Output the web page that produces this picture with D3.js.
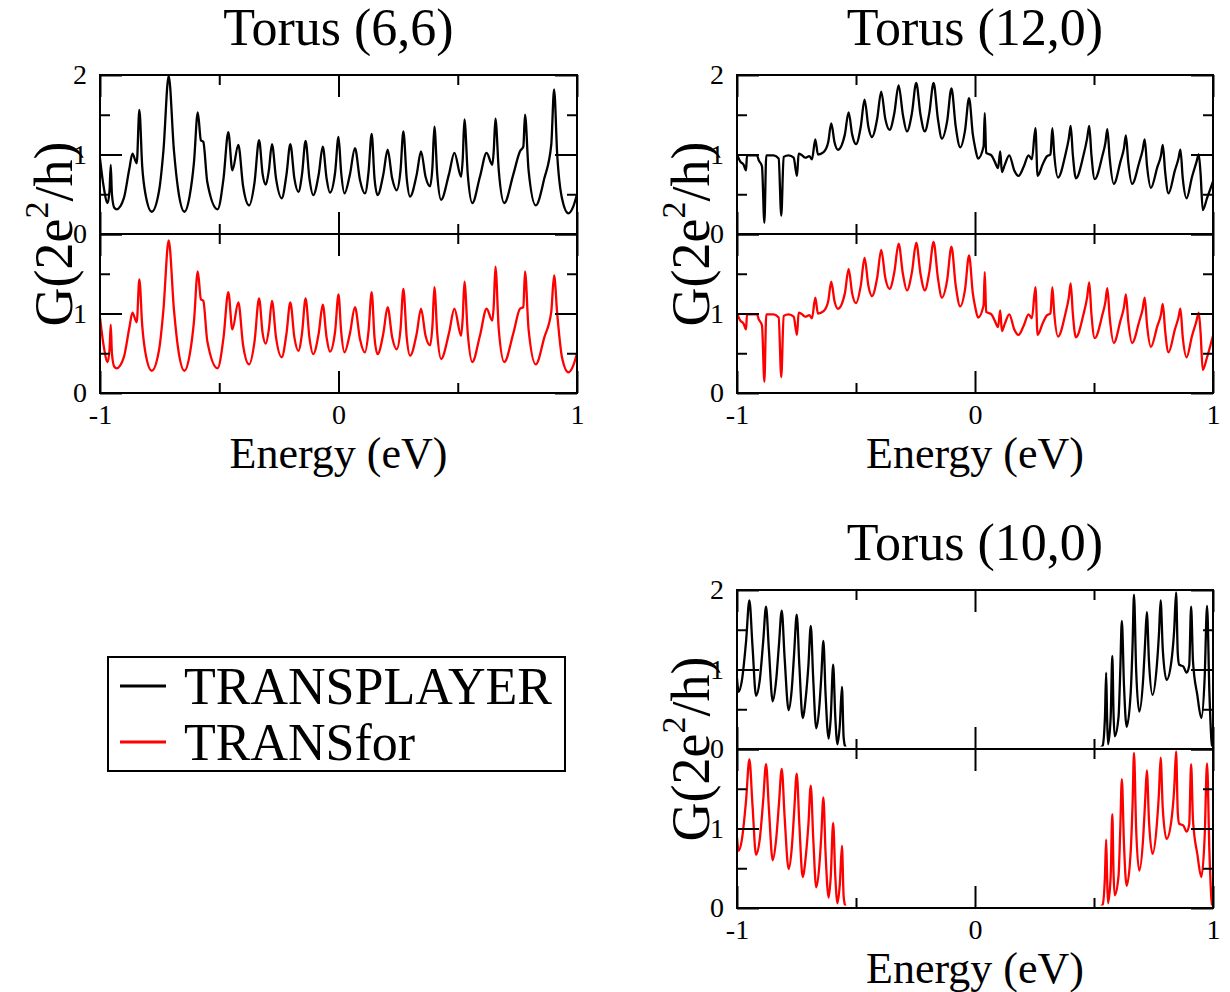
<!DOCTYPE html>
<html>
<head>
<meta charset="utf-8">
<script src="https://cdn.jsdelivr.net/npm/d3@7"></script>
<style>
  body { margin: 0; background: #fff; }
  svg { display: block; }
  text { font-family: "Liberation Serif", "Times New Roman", serif; fill: #000; }
</style>
</head>
<body>
<svg id="chart" width="1230" height="992"></svg>
<script>
// ---- axis ticks ----
const energyMajorTicks = [-1, 0, 1];
const energyMinorTicks = [-0.5, 0.5];
const conductanceMajorTicks = [0, 1, 2];
const conductanceMinorTicks = [0.5, 1.5];
const upperTickLabels = [0, 1, 2];
const lowerTickLabels = [0, 1];

// ---- series: [energy (eV), G (2e^2/h)] ----
const torus66Transplayer = [
  [-1.000, 0.95], [-0.985, 0.60], [-0.968, 0.39], [-0.960, 0.55], [-0.955, 0.87], [-0.950, 0.50],
  [-0.940, 0.33], [-0.930, 0.31], [-0.900, 0.45], [-0.877, 0.82], [-0.864, 1.01], [-0.846, 0.89],
  [-0.835, 1.56], [-0.823, 0.85], [-0.808, 0.48], [-0.783, 0.28], [-0.752, 0.55], [-0.734, 1.05],
  [-0.712, 1.99], [-0.690, 1.05], [-0.672, 0.55], [-0.646, 0.28], [-0.624, 0.48], [-0.606, 0.90],
  [-0.590, 1.53], [-0.577, 1.18], [-0.567, 1.16], [-0.550, 0.65], [-0.507, 0.31], [-0.482, 0.70],
  [-0.462, 1.28], [-0.445, 0.80], [-0.420, 1.12], [-0.400, 0.60], [-0.375, 0.36], [-0.352, 0.65],
  [-0.333, 1.18], [-0.318, 0.75], [-0.305, 0.62], [-0.292, 0.80], [-0.279, 1.13], [-0.262, 0.70],
  [-0.238, 0.45], [-0.218, 0.75], [-0.202, 1.13], [-0.185, 0.70], [-0.168, 0.53], [-0.153, 0.75],
  [-0.138, 1.17], [-0.122, 0.70], [-0.106, 0.49], [-0.083, 0.75], [-0.066, 1.10], [-0.050, 0.70],
  [-0.036, 0.52], [-0.014, 0.78], [0.000, 1.22], [0.011, 0.78], [0.025, 0.51], [0.048, 0.75],
  [0.069, 1.08], [0.090, 0.68], [0.111, 0.51], [0.126, 0.78], [0.139, 1.26], [0.151, 0.70],
  [0.164, 0.49], [0.188, 0.75], [0.206, 1.06], [0.225, 0.70], [0.244, 0.55], [0.260, 0.80],
  [0.272, 1.29], [0.286, 0.70], [0.300, 0.47], [0.328, 0.75], [0.346, 1.04], [0.365, 0.72],
  [0.384, 0.60], [0.394, 0.85], [0.402, 1.35], [0.414, 0.75], [0.430, 0.43], [0.463, 0.75],
  [0.486, 1.02], [0.514, 0.72], [0.521, 0.95], [0.528, 1.44], [0.542, 0.75], [0.561, 0.39],
  [0.593, 0.72], [0.621, 1.02], [0.645, 0.87], [0.651, 1.05], [0.658, 1.45], [0.672, 0.80],
  [0.695, 0.39], [0.733, 0.75], [0.761, 1.04], [0.775, 1.10], [0.782, 1.50], [0.797, 0.80],
  [0.827, 0.36], [0.863, 0.70], [0.892, 1.12], [0.904, 1.82], [0.917, 1.00], [0.937, 0.45],
  [0.964, 0.26], [0.985, 0.35], [1.000, 0.50]
];
const torus66Transfor = [
  [-1.000, 0.95], [-0.985, 0.60], [-0.968, 0.39], [-0.960, 0.55], [-0.955, 0.86], [-0.950, 0.50],
  [-0.940, 0.33], [-0.930, 0.31], [-0.900, 0.45], [-0.877, 0.82], [-0.864, 1.01], [-0.846, 0.89],
  [-0.835, 1.43], [-0.823, 0.85], [-0.808, 0.48], [-0.783, 0.28], [-0.752, 0.55], [-0.734, 1.05],
  [-0.712, 1.92], [-0.690, 1.05], [-0.672, 0.55], [-0.646, 0.28], [-0.624, 0.48], [-0.606, 0.90],
  [-0.590, 1.53], [-0.577, 1.18], [-0.567, 1.16], [-0.550, 0.65], [-0.507, 0.31], [-0.482, 0.70],
  [-0.462, 1.27], [-0.445, 0.80], [-0.420, 1.14], [-0.400, 0.60], [-0.375, 0.36], [-0.352, 0.65],
  [-0.333, 1.19], [-0.318, 0.75], [-0.305, 0.62], [-0.292, 0.80], [-0.279, 1.16], [-0.262, 0.70],
  [-0.238, 0.45], [-0.218, 0.75], [-0.202, 1.14], [-0.185, 0.70], [-0.168, 0.53], [-0.153, 0.75],
  [-0.138, 1.19], [-0.122, 0.70], [-0.106, 0.49], [-0.083, 0.75], [-0.066, 1.11], [-0.050, 0.70],
  [-0.036, 0.52], [-0.014, 0.78], [0.000, 1.24], [0.011, 0.78], [0.025, 0.51], [0.048, 0.75],
  [0.069, 1.08], [0.090, 0.68], [0.111, 0.51], [0.126, 0.78], [0.139, 1.27], [0.151, 0.70],
  [0.164, 0.49], [0.188, 0.75], [0.206, 1.08], [0.225, 0.70], [0.244, 0.55], [0.260, 0.80],
  [0.272, 1.31], [0.286, 0.70], [0.300, 0.47], [0.328, 0.75], [0.346, 1.06], [0.365, 0.72],
  [0.384, 0.60], [0.394, 0.85], [0.402, 1.33], [0.414, 0.75], [0.430, 0.43], [0.463, 0.75],
  [0.486, 1.06], [0.514, 0.72], [0.521, 0.95], [0.528, 1.40], [0.542, 0.75], [0.561, 0.39],
  [0.593, 0.72], [0.621, 1.06], [0.645, 0.91], [0.651, 1.10], [0.658, 1.59], [0.672, 0.80],
  [0.695, 0.39], [0.733, 0.75], [0.761, 1.06], [0.775, 1.08], [0.782, 1.53], [0.797, 0.80],
  [0.827, 0.36], [0.863, 0.70], [0.892, 1.02], [0.904, 1.48], [0.917, 1.00], [0.937, 0.45],
  [0.964, 0.26], [0.985, 0.35], [1.000, 0.50]
];

const torus120Transplayer = [
  [-1.000, 1.00], [-0.986, 0.91], [-0.972, 0.87], [-0.962, 0.80], [-0.958, 0.99], [-0.916, 0.99],
  [-0.909, 0.93], [-0.895, 0.85], [-0.885, 0.14], [-0.877, 0.99], [-0.846, 0.99], [-0.825, 0.95],
  [-0.814, 0.23], [-0.804, 0.97], [-0.783, 0.99], [-0.762, 0.96], [-0.748, 0.73], [-0.741, 1.01],
  [-0.727, 0.99], [-0.713, 0.96], [-0.696, 0.98], [-0.685, 0.94], [-0.671, 1.19], [-0.660, 1.00],
  [-0.636, 1.03], [-0.617, 1.15], [-0.604, 1.39], [-0.590, 1.15], [-0.576, 1.06], [-0.547, 1.25],
  [-0.531, 1.53], [-0.516, 1.25], [-0.500, 1.13], [-0.480, 1.35], [-0.464, 1.69], [-0.448, 1.35],
  [-0.433, 1.22], [-0.411, 1.45], [-0.394, 1.79], [-0.377, 1.45], [-0.359, 1.31], [-0.339, 1.52],
  [-0.321, 1.87], [-0.303, 1.50], [-0.286, 1.29], [-0.265, 1.52], [-0.247, 1.90], [-0.229, 1.50],
  [-0.211, 1.29], [-0.192, 1.52], [-0.174, 1.90], [-0.156, 1.45], [-0.139, 1.20], [-0.117, 1.42],
  [-0.099, 1.83], [-0.081, 1.35], [-0.062, 1.09], [-0.042, 1.30], [-0.025, 1.71], [-0.009, 1.25],
  [0.001, 1.08], [0.013, 0.95], [0.036, 1.10], [0.041, 1.52], [0.047, 1.02], [0.069, 0.99],
  [0.083, 0.91], [0.097, 0.83], [0.106, 1.04], [0.113, 0.78], [0.125, 0.87], [0.144, 0.99],
  [0.165, 0.80], [0.183, 0.73], [0.205, 0.85], [0.225, 0.99], [0.239, 0.94], [0.254, 1.33],
  [0.263, 0.73], [0.285, 0.88], [0.303, 0.98], [0.317, 1.00], [0.325, 1.33], [0.333, 1.00],
  [0.349, 0.71], [0.380, 1.00], [0.394, 1.20], [0.402, 1.36], [0.411, 1.00], [0.424, 0.70],
  [0.455, 0.98], [0.471, 1.20], [0.480, 1.36], [0.489, 1.00], [0.503, 0.69], [0.535, 0.98],
  [0.548, 1.15], [0.556, 1.32], [0.566, 0.95], [0.583, 0.63], [0.612, 0.92], [0.626, 1.08],
  [0.634, 1.24], [0.644, 0.90], [0.660, 0.63], [0.690, 0.90], [0.704, 1.05], [0.713, 1.19],
  [0.723, 0.85], [0.739, 0.58], [0.767, 0.85], [0.781, 0.98], [0.789, 1.12], [0.799, 0.78],
  [0.813, 0.51], [0.840, 0.80], [0.855, 0.95], [0.863, 1.06], [0.873, 0.70], [0.889, 0.45],
  [0.912, 0.72], [0.930, 0.90], [0.940, 1.00], [0.948, 0.75], [0.957, 0.30], [0.975, 0.45],
  [1.000, 0.66]
];
const torus120Transfor = [
  [-1.000, 1.00], [-0.986, 0.91], [-0.972, 0.87], [-0.962, 0.80], [-0.958, 0.99], [-0.916, 0.99],
  [-0.909, 0.93], [-0.895, 0.85], [-0.885, 0.14], [-0.877, 0.99], [-0.846, 0.99], [-0.825, 0.95],
  [-0.814, 0.20], [-0.804, 0.97], [-0.783, 0.99], [-0.762, 0.96], [-0.748, 0.73], [-0.741, 1.01],
  [-0.727, 0.99], [-0.713, 0.96], [-0.696, 0.98], [-0.685, 0.94], [-0.671, 1.20], [-0.660, 1.00],
  [-0.636, 1.03], [-0.617, 1.15], [-0.604, 1.40], [-0.590, 1.15], [-0.576, 1.06], [-0.547, 1.25],
  [-0.531, 1.56], [-0.516, 1.25], [-0.500, 1.13], [-0.480, 1.35], [-0.464, 1.70], [-0.448, 1.35],
  [-0.433, 1.22], [-0.411, 1.45], [-0.394, 1.80], [-0.377, 1.45], [-0.359, 1.31], [-0.339, 1.52],
  [-0.321, 1.88], [-0.303, 1.50], [-0.286, 1.29], [-0.265, 1.52], [-0.247, 1.89], [-0.229, 1.50],
  [-0.211, 1.29], [-0.192, 1.52], [-0.174, 1.90], [-0.156, 1.45], [-0.139, 1.20], [-0.117, 1.42],
  [-0.099, 1.84], [-0.081, 1.35], [-0.062, 1.09], [-0.042, 1.30], [-0.025, 1.73], [-0.009, 1.25],
  [0.001, 1.08], [0.013, 0.95], [0.036, 1.10], [0.041, 1.52], [0.047, 1.02], [0.069, 0.99],
  [0.083, 0.91], [0.097, 0.83], [0.106, 1.04], [0.113, 0.78], [0.125, 0.87], [0.144, 0.99],
  [0.165, 0.80], [0.183, 0.73], [0.205, 0.85], [0.225, 0.99], [0.239, 0.94], [0.254, 1.33],
  [0.263, 0.73], [0.285, 0.88], [0.303, 0.98], [0.317, 1.00], [0.325, 1.33], [0.333, 1.00],
  [0.349, 0.71], [0.380, 1.00], [0.394, 1.20], [0.402, 1.38], [0.411, 1.00], [0.424, 0.70],
  [0.455, 0.98], [0.471, 1.20], [0.480, 1.39], [0.489, 1.00], [0.503, 0.69], [0.535, 0.98],
  [0.548, 1.15], [0.556, 1.32], [0.566, 0.95], [0.583, 0.63], [0.612, 0.92], [0.626, 1.08],
  [0.634, 1.24], [0.644, 0.90], [0.660, 0.63], [0.690, 0.90], [0.704, 1.05], [0.713, 1.20],
  [0.723, 0.85], [0.739, 0.58], [0.767, 0.85], [0.781, 0.98], [0.789, 1.12], [0.799, 0.78],
  [0.813, 0.51], [0.840, 0.80], [0.855, 0.95], [0.863, 1.06], [0.873, 0.70], [0.889, 0.45],
  [0.912, 0.72], [0.930, 0.90], [0.940, 1.01], [0.948, 0.75], [0.957, 0.29], [0.975, 0.45],
  [1.000, 0.72]
];

const torus100Transplayer = [
  [-1.000, 0.89], [-0.993, 0.72], [-0.980, 0.85], [-0.962, 1.35], [-0.948, 1.87], [-0.935, 1.30],
  [-0.920, 0.67], [-0.905, 0.85], [-0.890, 1.35], [-0.878, 1.79], [-0.866, 1.25], [-0.850, 0.60],
  [-0.836, 0.85], [-0.824, 1.30], [-0.812, 1.74], [-0.800, 1.15], [-0.783, 0.49], [-0.770, 0.75],
  [-0.760, 1.20], [-0.749, 1.69], [-0.738, 1.05], [-0.724, 0.39], [-0.711, 0.65], [-0.700, 1.05],
  [-0.690, 1.55], [-0.680, 0.90], [-0.667, 0.26], [-0.655, 0.50], [-0.646, 0.90], [-0.637, 1.36],
  [-0.628, 0.70], [-0.615, 0.13], [-0.606, 0.40], [-0.596, 1.06], [-0.587, 0.40], [-0.578, 0.06],
  [-0.568, 0.30], [-0.559, 0.78], [-0.552, 0.15], [-0.545, 0.03], [-0.531, 0.00], [-0.520, 0.00],
  [0.510, 0.00], [0.522, 0.01], [0.536, 0.04], [0.546, 0.40], [0.551, 0.96], [0.555, 0.40],
  [0.559, 0.06], [0.570, 0.40], [0.577, 1.17], [0.582, 0.45], [0.587, 0.16], [0.603, 0.40],
  [0.610, 0.95], [0.617, 1.61], [0.626, 0.80], [0.637, 0.28], [0.654, 0.70], [0.662, 1.30],
  [0.668, 1.94], [0.677, 1.00], [0.690, 0.47], [0.707, 0.90], [0.715, 1.35], [0.722, 1.72],
  [0.731, 1.10], [0.746, 0.68], [0.764, 1.05], [0.773, 1.45], [0.780, 1.87], [0.789, 1.25],
  [0.805, 0.87], [0.825, 1.10], [0.837, 1.50], [0.845, 1.97], [0.852, 1.20], [0.858, 1.06],
  [0.875, 1.04], [0.889, 0.96], [0.900, 1.05], [0.908, 1.79], [0.916, 1.10], [0.934, 0.68],
  [0.951, 0.39], [0.965, 0.90], [0.975, 1.80], [0.985, 0.70], [0.994, 0.09], [1.000, 0.00]
];
const torus100Transfor = [
  [-1.000, 0.89], [-0.993, 0.72], [-0.980, 0.85], [-0.962, 1.35], [-0.948, 1.87], [-0.935, 1.30],
  [-0.920, 0.67], [-0.905, 0.85], [-0.890, 1.35], [-0.878, 1.81], [-0.866, 1.25], [-0.850, 0.60],
  [-0.836, 0.85], [-0.824, 1.30], [-0.812, 1.75], [-0.800, 1.15], [-0.783, 0.49], [-0.770, 0.75],
  [-0.760, 1.20], [-0.749, 1.69], [-0.738, 1.05], [-0.724, 0.39], [-0.711, 0.65], [-0.700, 1.05],
  [-0.690, 1.54], [-0.680, 0.90], [-0.667, 0.26], [-0.655, 0.50], [-0.646, 0.90], [-0.637, 1.39],
  [-0.628, 0.70], [-0.615, 0.13], [-0.606, 0.40], [-0.596, 1.07], [-0.587, 0.40], [-0.578, 0.06],
  [-0.568, 0.30], [-0.559, 0.78], [-0.552, 0.15], [-0.545, 0.03], [-0.531, 0.00], [-0.520, 0.00],
  [0.510, 0.00], [0.522, 0.01], [0.536, 0.04], [0.546, 0.40], [0.551, 0.86], [0.555, 0.40],
  [0.559, 0.06], [0.570, 0.40], [0.577, 1.18], [0.582, 0.45], [0.587, 0.16], [0.603, 0.40],
  [0.610, 0.95], [0.617, 1.62], [0.626, 0.80], [0.637, 0.28], [0.654, 0.70], [0.662, 1.30],
  [0.668, 1.95], [0.677, 1.00], [0.690, 0.47], [0.707, 0.90], [0.715, 1.35], [0.722, 1.73],
  [0.731, 1.10], [0.746, 0.68], [0.764, 1.05], [0.773, 1.45], [0.780, 1.89], [0.789, 1.25],
  [0.805, 0.87], [0.825, 1.10], [0.837, 1.50], [0.845, 1.97], [0.852, 1.20], [0.858, 1.06],
  [0.875, 1.04], [0.889, 0.96], [0.900, 1.05], [0.908, 1.81], [0.916, 1.10], [0.934, 0.68],
  [0.951, 0.39], [0.965, 0.90], [0.975, 1.82], [0.985, 0.70], [0.994, 0.09], [1.000, 0.00]
];

const legendLabels = ["TRANSPLAYER", "TRANSfor"];
const seriesColors = ["#000000", "#ff0000"];

// ---- layout ----
const panels = [
  { title: "Torus (6,6)",  upper: torus66Transplayer,  lower: torus66Transfor,  x0: 100, x1: 577,  top: 75,  mid: 234, bottom: 393 },
  { title: "Torus (12,0)", upper: torus120Transplayer, lower: torus120Transfor, x0: 737, x1: 1213, top: 75,  mid: 234, bottom: 393 },
  { title: "Torus (10,0)", upper: torus100Transplayer, lower: torus100Transfor, x0: 737, x1: 1213, top: 590, mid: 749, bottom: 908 }
];

const svg = d3.select("#chart");
const defs = svg.append("defs");
const MAJOR = 22, MINOR = 10;
const fmt = d => (d < 0 ? "-" : "") + Math.abs(d);

function tickGroup(parent, axisFn, scale, values, size, transform) {
  const g = parent.append("g")
    .attr("transform", transform)
    .call(axisFn(scale).tickValues(values).tickSize(-size).tickFormat(""));
  g.select(".domain").remove();
  g.selectAll(".tick line").attr("stroke", "#000").attr("stroke-width", 2);
  return g;
}

panels.forEach((p, pi) => {
  const g = svg.append("g");
  const x = d3.scaleLinear().domain([-1, 1]).range([p.x0, p.x1]);
  const yUpper = d3.scaleLinear().domain([0, 2]).range([p.mid, p.top]);
  const yLower = d3.scaleLinear().domain([0, 2]).range([p.bottom, p.mid]);

  // conductance curves, each clipped to the inside of its own sub-panel
  [[p.upper, yUpper, seriesColors[0], p.top, p.mid], [p.lower, yLower, seriesColors[1], p.mid, p.bottom]]
    .forEach(([data, y, color, t, b], si) => {
      const clipId = `clip-${pi}-${si}`;
      defs.append("clipPath").attr("id", clipId)
        .append("rect").attr("x", p.x0).attr("y", t)
        .attr("width", p.x1 - p.x0).attr("height", b - t - 2.5);
      const line = d3.line()
        .x(d => x(d[0]))
        .y(d => y(d[1]))
        .curve(d3.curveMonotoneX);
      g.append("path")
        .datum(data)
        .attr("clip-path", `url(#${clipId})`)
        .attr("fill", "none")
        .attr("stroke", color)
        .attr("stroke-width", 2.3)
        .attr("stroke-linejoin", "round")
        .attr("d", line);
    });

  // inward ticks on all four sides of both sub-panels
  [[yUpper, p.top, p.mid], [yLower, p.mid, p.bottom]].forEach(([y, t, b]) => {
    tickGroup(g, d3.axisBottom, x, energyMajorTicks, MAJOR, `translate(0,${b})`);
    tickGroup(g, d3.axisBottom, x, energyMinorTicks, MINOR, `translate(0,${b})`);
    tickGroup(g, d3.axisTop, x, energyMajorTicks, MAJOR, `translate(0,${t})`);
    tickGroup(g, d3.axisTop, x, energyMinorTicks, MINOR, `translate(0,${t})`);
    tickGroup(g, d3.axisLeft, y, conductanceMajorTicks, MAJOR, `translate(${p.x0},0)`);
    tickGroup(g, d3.axisLeft, y, conductanceMinorTicks, MINOR, `translate(${p.x0},0)`);
    tickGroup(g, d3.axisRight, y, conductanceMajorTicks, MAJOR, `translate(${p.x1},0)`);
    tickGroup(g, d3.axisRight, y, conductanceMinorTicks, MINOR, `translate(${p.x1},0)`);
  });

  // frames
  g.append("rect").attr("x", p.x0).attr("y", p.top)
    .attr("width", p.x1 - p.x0).attr("height", p.bottom - p.top)
    .attr("fill", "none").attr("stroke", "#000").attr("stroke-width", 2);
  g.append("line").attr("x1", p.x0).attr("x2", p.x1)
    .attr("y1", p.mid).attr("y2", p.mid)
    .attr("stroke", "#000").attr("stroke-width", 2);

  // tick labels
  const labelAxes = [
    [d3.axisLeft(yUpper).tickValues(upperTickLabels).tickPadding(13), `translate(${p.x0},0)`],
    [d3.axisLeft(yLower).tickValues(lowerTickLabels).tickPadding(13), `translate(${p.x0},0)`],
    [d3.axisBottom(x).tickValues(energyMajorTicks).tickPadding(11), `translate(0,${p.bottom})`]
  ];
  labelAxes.forEach(([ax, tr]) => {
    const la = g.append("g").attr("transform", tr)
      .call(ax.tickSize(0).tickFormat(fmt));
    la.select(".domain").remove();
    la.selectAll("text")
      .attr("font-family", '"Liberation Serif", "Times New Roman", serif')
      .attr("font-size", 28)
      .attr("fill", "#000");
  });

  // title
  g.append("text")
    .attr("x", (p.x0 + p.x1) / 2).attr("y", p.top - 30)
    .attr("text-anchor", "middle").attr("font-size", 52)
    .text(p.title);

  // x label
  g.append("text")
    .attr("x", (p.x0 + p.x1) / 2).attr("y", p.bottom + 75)
    .attr("text-anchor", "middle").attr("font-size", 44)
    .text("Energy (eV)");

  // y label
  const yl = g.append("text")
    .attr("transform", `translate(${p.x0 - 28},${p.mid}) rotate(-90)`)
    .attr("text-anchor", "middle").attr("font-size", 54);
  yl.append("tspan").text("G(2e");
  yl.append("tspan").attr("font-size", 34).attr("dy", -24).text("2");
  yl.append("tspan").attr("dy", 24).text("/h)");
});

// ---- legend ----
const legend = svg.append("g");
legend.append("rect")
  .attr("x", 108).attr("y", 657).attr("width", 457).attr("height", 114)
  .attr("fill", "#fff").attr("stroke", "#000").attr("stroke-width", 2);
legendLabels.forEach((label, i) => {
  const cy = 686 + i * 56;
  legend.append("line")
    .attr("x1", 120).attr("x2", 166).attr("y1", cy).attr("y2", cy)
    .attr("stroke", seriesColors[i]).attr("stroke-width", 3);
  legend.append("text")
    .attr("x", 184).attr("y", cy + 18)
    .attr("font-size", 52)
    .text(label);
});
</script>
</body>
</html>
